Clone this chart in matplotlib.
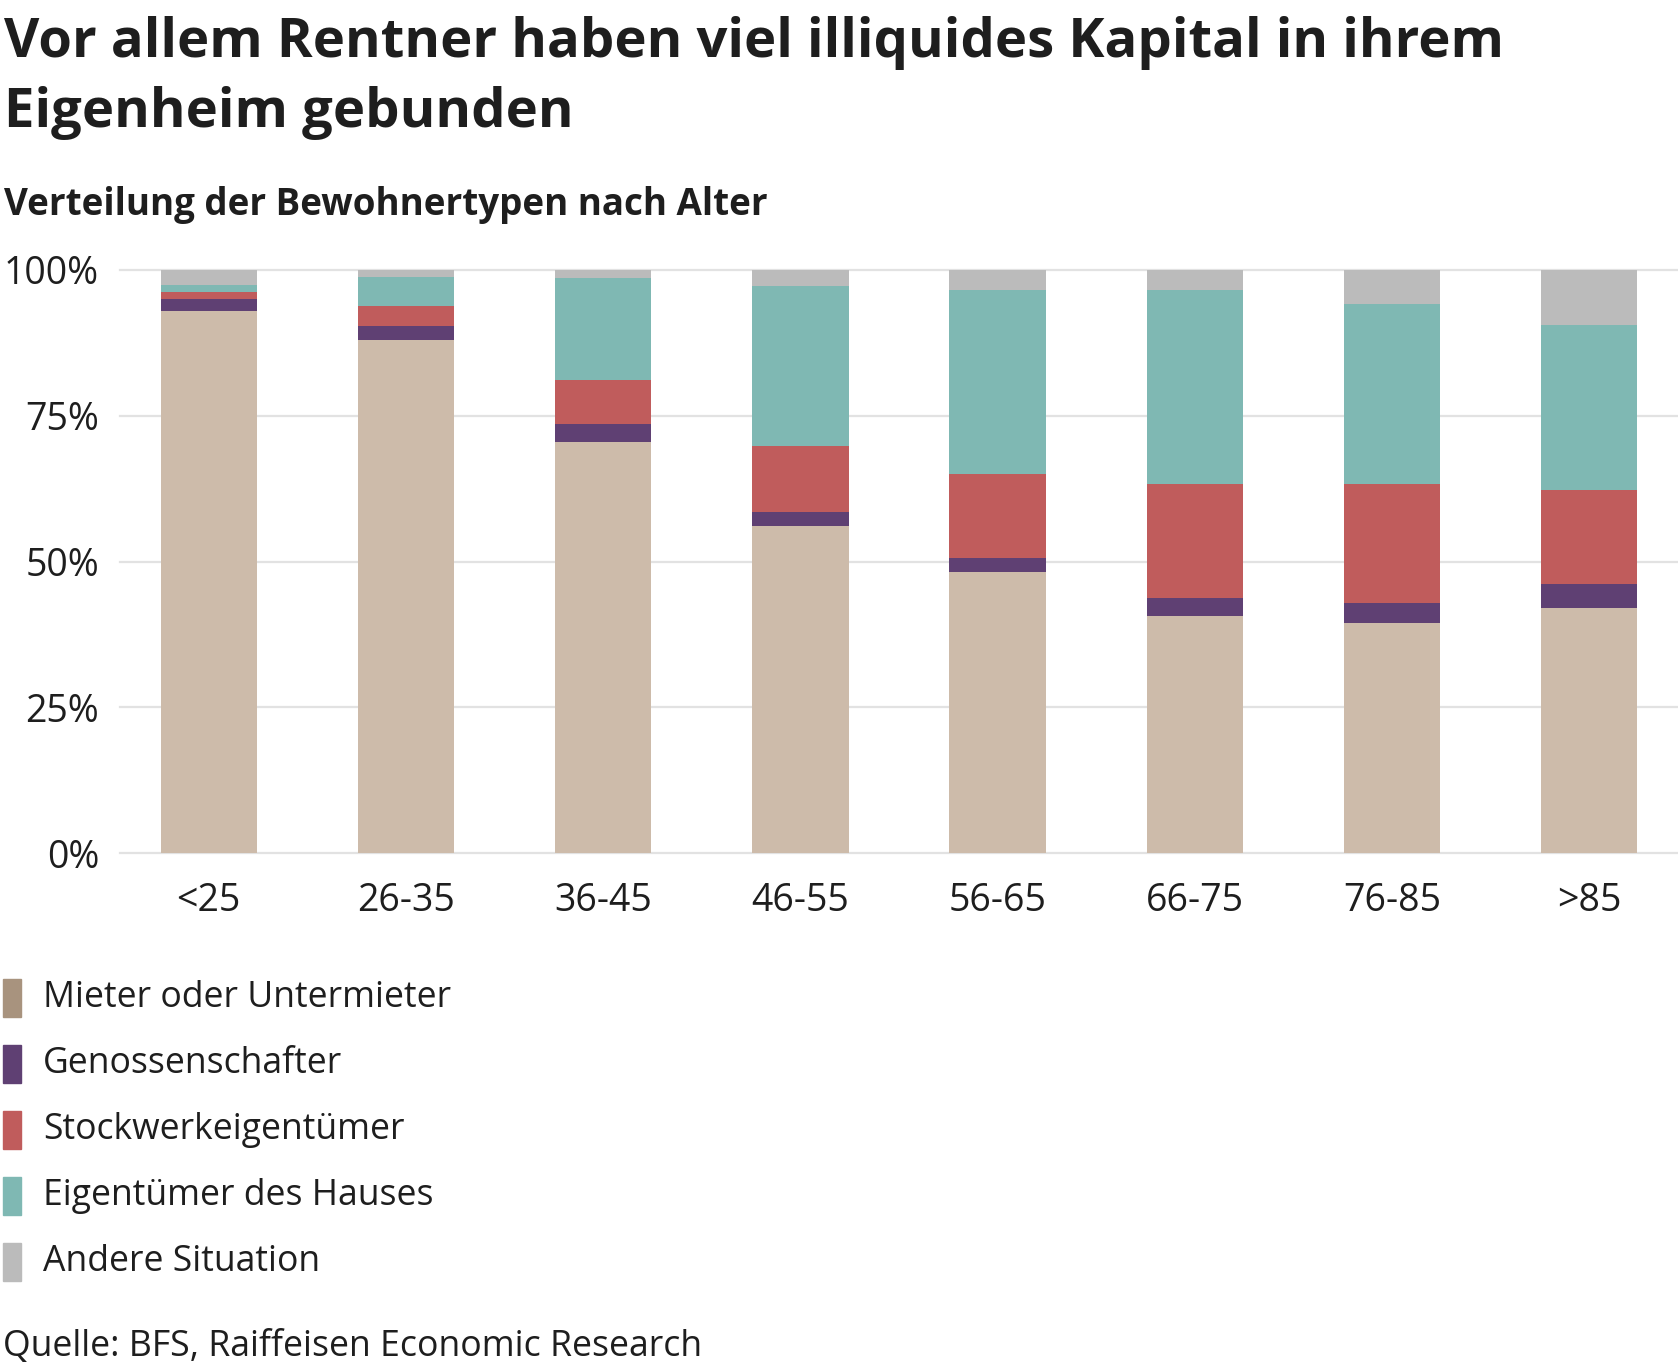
import matplotlib
matplotlib.use("Agg")
import matplotlib.pyplot as plt
from matplotlib.patches import Rectangle

categories = ["<25", "26-35", "36-45", "46-55", "56-65", "66-75", "76-85", ">85"]
series_names = ["Mieter oder Untermieter", "Genossenschafter", "Stockwerkeigentümer",
                "Eigentümer des Hauses", "Andere Situation"]
mieter = [93.0, 88.0, 70.5, 56.1, 48.2, 40.7, 39.5, 42.0]
genossenschafter = [2.1, 2.4, 3.1, 2.4, 2.4, 3.1, 3.4, 4.1]
stockwerk = [1.2, 3.4, 7.5, 11.3, 14.4, 19.5, 20.4, 16.1]
eigentuemer = [1.2, 5.0, 17.5, 27.4, 31.5, 33.2, 30.9, 28.4]
andere = [2.5, 1.2, 1.4, 2.8, 3.5, 3.5, 5.8, 9.4]
yticks = [0, 25, 50, 75, 100]
ytick_labels = ["0%", "25%", "50%", "75%", "100%"]

bar_colors = ["#cdbbaa", "#5f4073", "#c05c5c", "#7fb8b3", "#bbbbbb"]
legend_colors = ["#a8937e", "#5f4073", "#c05c5c", "#7fb8b3", "#bbbbbb"]
text_color = "#1e1e1e"

plt.rcParams['font.family'] = ['Open Sans', 'DejaVu Sans']

W, H = 1678, 1372
fig = plt.figure(figsize=(W / 100, H / 100), dpi=100)

def fx(px):
    return px / W

def fy(py):
    return 1 - py / H

ax = fig.add_axes([fx(120), fy(853), 1 - fx(120), (853 - 270) / H])
ax.set_xlim(-0.45, len(categories) - 0.55)
ax.set_ylim(0, 100)

xs = list(range(len(categories)))
bottom = [0.0] * len(categories)
for vals, col in zip([mieter, genossenschafter, stockwerk, eigentuemer, andere], bar_colors):
    ax.bar(xs, vals, bottom=bottom, width=0.488, color=col, linewidth=0, zorder=2)
    bottom = [b + v for b, v in zip(bottom, vals)]

for t in yticks:
    ax.axhline(t, color="#e2e2e2", linewidth=1.6, zorder=1, clip_on=False)

for s in ax.spines.values():
    s.set_visible(False)
ax.set_yticks(yticks)
ax.set_yticklabels(ytick_labels)
ax.set_xticks(xs)
ax.set_xticklabels(categories)
ax.tick_params(axis='both', length=0, labelsize=27, colors=text_color)
ax.tick_params(axis='y', pad=15)
ax.tick_params(axis='x', pad=21)

fig.text(fx(4), fy(57), "Vor allem Rentner haben viel illiquides Kapital in ihrem",
         fontsize=39.2, fontweight='bold', color=text_color, va='baseline', ha='left')
fig.text(fx(4), fy(127), "Eigenheim gebunden",
         fontsize=39.2, fontweight='bold', color=text_color, va='baseline', ha='left')
fig.text(fx(4), fy(215), "Verteilung der Bewohnertypen nach Alter",
         fontsize=26.5, fontweight='bold', color=text_color, va='baseline', ha='left')

leg_y = [998, 1064, 1130, 1196, 1262]
for name, col, y in zip(series_names, legend_colors, leg_y):
    fig.patches.append(Rectangle((fx(3), fy(y + 19)), fx(18), 38 / H,
                                 transform=fig.transFigure, color=col, figure=fig))
    fig.text(fx(43), fy(y), name, fontsize=25.6, color=text_color, va='center', ha='left')

fig.text(fx(3), fy(1347), "Quelle: BFS, Raiffeisen Economic Research",
         fontsize=25.7, color=text_color, va='center', ha='left')

fig.savefig("out.png", dpi=100)
